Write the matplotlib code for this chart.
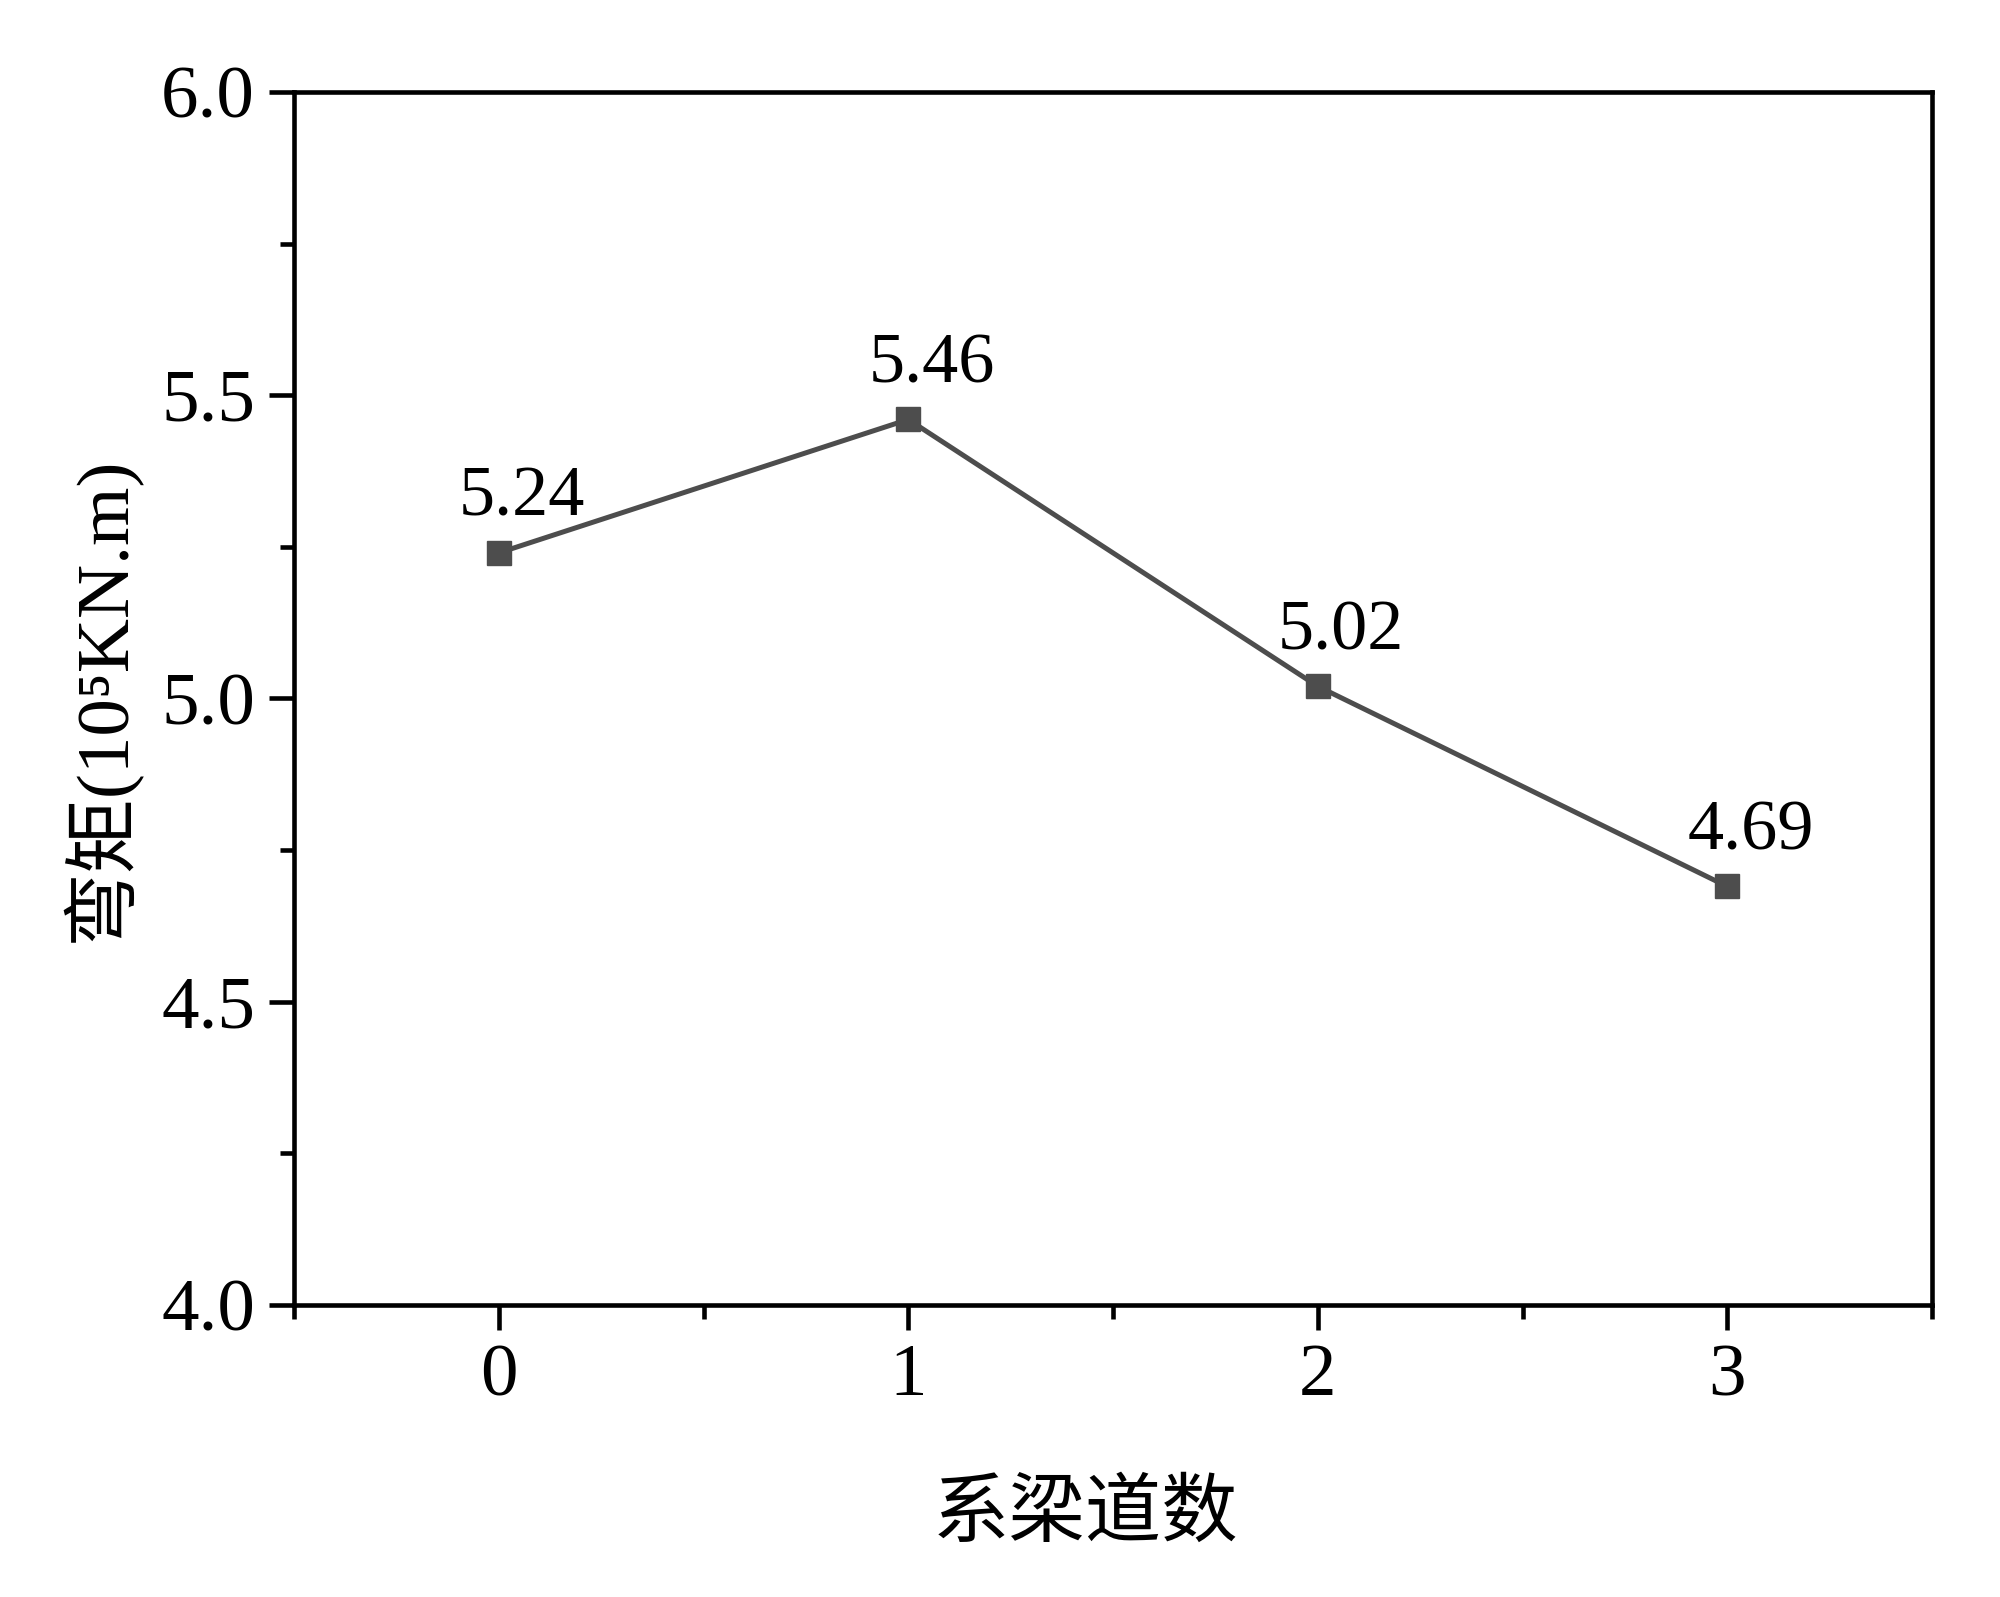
import matplotlib
matplotlib.use("Agg")
import matplotlib.pyplot as plt
from matplotlib.ticker import MultipleLocator, FormatStrFormatter

plt.rcParams['font.family'] = ['Liberation Serif', 'Noto Sans CJK SC']

# data
beams = [0, 1, 2, 3]
moment = [5.24, 5.46, 5.02, 4.69]
labels = ['5.24', '5.46', '5.02', '4.69']

fig = plt.figure(figsize=(20, 15.97), dpi=100)
ax = fig.add_axes([0.147, 0.1829, 0.819, 0.7595])

ax.plot(beams, moment, color='#4d4d4d', lw=3.6, marker='s', ms=17,
        markerfacecolor='#4d4d4d', markeredgecolor='#4d4d4d')

for x, y, t in zip(beams, moment, labels):
    ax.annotate(t, (x, y), xytext=(17, 16), textcoords='offset points',
                ha='center', va='bottom', fontsize=52)

ax.set_xlim(-0.5, 3.5)
ax.set_ylim(4.0, 6.0)
ax.xaxis.set_major_locator(MultipleLocator(1))
ax.xaxis.set_minor_locator(MultipleLocator(0.5))
ax.yaxis.set_major_locator(MultipleLocator(0.5))
ax.yaxis.set_minor_locator(MultipleLocator(0.25))
ax.yaxis.set_major_formatter(FormatStrFormatter('%.1f'))

for s in ax.spines.values():
    s.set_linewidth(3.3)
ax.tick_params(which='major', direction='out', length=18, width=3.3, labelsize=54, pad=10)
ax.tick_params(which='minor', direction='out', length=10, width=3.3)
ax.tick_params(top=False, right=False, which='both')

ax.set_xlabel('系梁道数', fontsize=55)
ax.xaxis.set_label_coords(0.483, -0.145)
ax.set_ylabel('弯矩(10⁵KN.m)', fontsize=54)
ax.yaxis.set_label_coords(-0.094, 0.5)

fig.savefig('out.png', dpi=100, facecolor='white')
